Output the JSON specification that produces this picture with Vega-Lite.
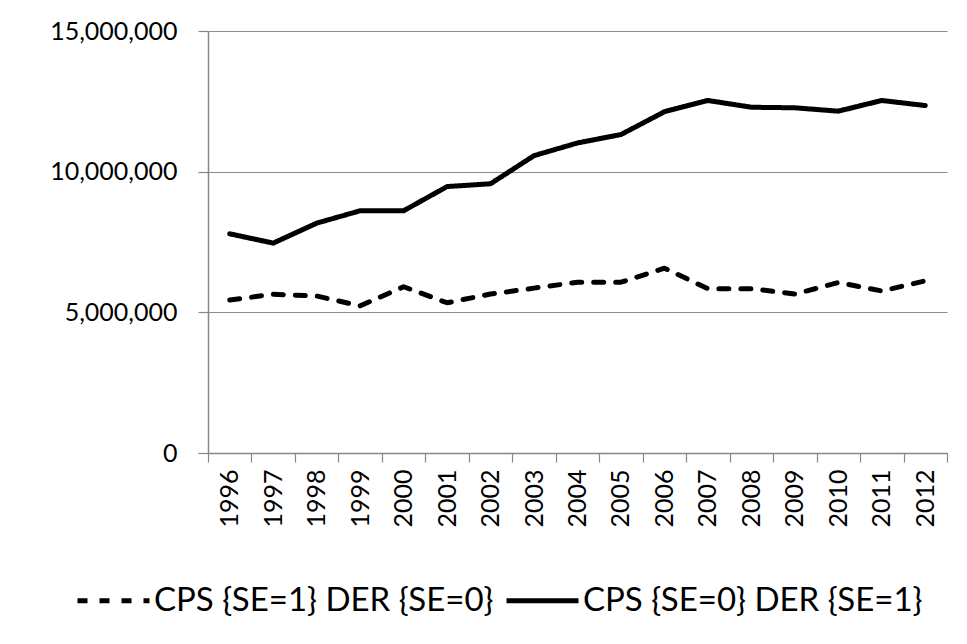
{
  "$schema": "https://vega.github.io/schema/vega-lite/v6.json",
  "width": 739,
  "height": 422,
  "autosize": {"type": "none"},
  "padding": {"left": 208, "top": 31, "right": 20, "bottom": 191},
  "background": "white",
  "config": {
    "view": {"stroke": null},
    "font": "Lato"
  },
  "data": {
    "values": [
      {"year": "1996", "series": "CPS {SE=1} DER {SE=0}", "value": 5440000},
      {"year": "1997", "series": "CPS {SE=1} DER {SE=0}", "value": 5640000},
      {"year": "1998", "series": "CPS {SE=1} DER {SE=0}", "value": 5580000},
      {"year": "1999", "series": "CPS {SE=1} DER {SE=0}", "value": 5230000},
      {"year": "2000", "series": "CPS {SE=1} DER {SE=0}", "value": 5910000},
      {"year": "2001", "series": "CPS {SE=1} DER {SE=0}", "value": 5340000},
      {"year": "2002", "series": "CPS {SE=1} DER {SE=0}", "value": 5650000},
      {"year": "2003", "series": "CPS {SE=1} DER {SE=0}", "value": 5860000},
      {"year": "2004", "series": "CPS {SE=1} DER {SE=0}", "value": 6070000},
      {"year": "2005", "series": "CPS {SE=1} DER {SE=0}", "value": 6070000},
      {"year": "2006", "series": "CPS {SE=1} DER {SE=0}", "value": 6570000},
      {"year": "2007", "series": "CPS {SE=1} DER {SE=0}", "value": 5840000},
      {"year": "2008", "series": "CPS {SE=1} DER {SE=0}", "value": 5840000},
      {"year": "2009", "series": "CPS {SE=1} DER {SE=0}", "value": 5650000},
      {"year": "2010", "series": "CPS {SE=1} DER {SE=0}", "value": 6060000},
      {"year": "2011", "series": "CPS {SE=1} DER {SE=0}", "value": 5760000},
      {"year": "2012", "series": "CPS {SE=1} DER {SE=0}", "value": 6120000},
      {"year": "1996", "series": "CPS {SE=0} DER {SE=1}", "value": 7790000},
      {"year": "1997", "series": "CPS {SE=0} DER {SE=1}", "value": 7460000},
      {"year": "1998", "series": "CPS {SE=0} DER {SE=1}", "value": 8170000},
      {"year": "1999", "series": "CPS {SE=0} DER {SE=1}", "value": 8610000},
      {"year": "2000", "series": "CPS {SE=0} DER {SE=1}", "value": 8610000},
      {"year": "2001", "series": "CPS {SE=0} DER {SE=1}", "value": 9470000},
      {"year": "2002", "series": "CPS {SE=0} DER {SE=1}", "value": 9570000},
      {"year": "2003", "series": "CPS {SE=0} DER {SE=1}", "value": 10570000},
      {"year": "2004", "series": "CPS {SE=0} DER {SE=1}", "value": 11020000},
      {"year": "2005", "series": "CPS {SE=0} DER {SE=1}", "value": 11320000},
      {"year": "2006", "series": "CPS {SE=0} DER {SE=1}", "value": 12130000},
      {"year": "2007", "series": "CPS {SE=0} DER {SE=1}", "value": 12530000},
      {"year": "2008", "series": "CPS {SE=0} DER {SE=1}", "value": 12290000},
      {"year": "2009", "series": "CPS {SE=0} DER {SE=1}", "value": 12270000},
      {"year": "2010", "series": "CPS {SE=0} DER {SE=1}", "value": 12150000},
      {"year": "2011", "series": "CPS {SE=0} DER {SE=1}", "value": 12530000},
      {"year": "2012", "series": "CPS {SE=0} DER {SE=1}", "value": 12350000}
    ]
  },
  "mark": {
    "type": "line",
    "strokeWidth": 5,
    "strokeCap": "round",
    "strokeJoin": "round",
    "color": "black"
  },
  "encoding": {
    "x": {
      "field": "year",
      "type": "ordinal",
      "title": null,
      "bandPosition": 0.5,
      "scale": {"type": "band", "paddingInner": 0, "paddingOuter": 0},
      "axis": {
        "labelAngle": -90,
        "labelAlign": "right",
        "labelBaseline": "middle",
        "labelFont": "Lato",
        "labelFontSize": 25,
        "labelColor": "black",
        "labelPadding": 7,
        "tickBand": "extent",
        "tickSize": 9,
        "tickColor": "#868686",
        "tickWidth": 1.2,
        "domainColor": "#868686",
        "domainWidth": 1.5,
        "grid": false
      }
    },
    "y": {
      "field": "value",
      "type": "quantitative",
      "title": null,
      "scale": {"domain": [0, 15000000], "nice": false},
      "axis": {
        "values": [0, 5000000, 10000000, 15000000],
        "format": ",d",
        "labelFont": "Lato",
        "labelFontSize": 25,
        "labelColor": "black",
        "labelPadding": 21,
        "tickSize": 10,
        "tickColor": "#868686",
        "tickWidth": 1.2,
        "domainColor": "#868686",
        "domainWidth": 1.5,
        "grid": true,
        "gridColor": "#8c8c8c",
        "gridWidth": 1.2
      }
    },
    "strokeDash": {
      "field": "series",
      "type": "nominal",
      "scale": {
        "domain": ["CPS {SE=1} DER {SE=0}", "CPS {SE=0} DER {SE=1}"],
        "range": [[10, 12], [1, 0]]
      },
      "legend": {
        "title": null,
        "orient": "none",
        "direction": "horizontal",
        "legendX": -133,
        "legendY": 531,
        "symbolType": "stroke",
        "symbolSize": 5184,
        "symbolStrokeWidth": 5,
        "symbolStrokeColor": "black",
        "labelFont": "Lato",
        "labelFontSize": 33,
        "labelColor": "black",
        "labelOffset": 2,
        "columnPadding": 2,
        "labelLimit": 500
      }
    }
  }
}
